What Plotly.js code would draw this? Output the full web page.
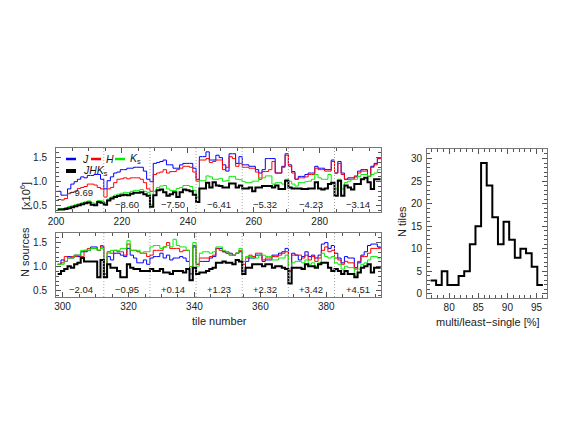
<!DOCTYPE html>
<html>
<head>
<meta charset="utf-8">
<script src="https://cdn.plot.ly/plotly-3.0.1.min.js"></script>
<style>
  html, body { margin: 0; padding: 0; background: #fff; }
  #chart { width: 562px; height: 425px; }
</style>
</head>
<body>
<div id="chart"></div>
<script>
// tiles 201-298 (upper panel) and 299-396 (lower panel), 14 tiles per row of latitude
const firstTileTop = 201;
const firstTileBottom = 299;
const tilesPerRow = 14;

const latTop = [-9.69, -8.60, -7.50, -6.41, -5.32, -4.23, -3.14];
const latBottom = [-2.04, -0.95, 0.14, 1.23, 2.32, 3.42, 4.51];

// number of sources per tile [x10^6]
const jTop = [
  0.80, 0.72, 0.72, 0.85, 0.95, 1.00, 1.05, 1.10, 1.08, 1.13, 1.13, 1.15, 1.15, 1.05,
  0.85, 1.02, 1.10, 1.18, 1.20, 1.25, 1.25, 1.28, 1.28, 1.30, 1.30, 1.30, 1.22, 1.05,
  1.00, 1.38, 1.40, 1.42, 1.45, 1.35, 1.35, 1.28, 1.28, 1.35, 1.38, 1.38, 1.38, 1.28,
  1.05, 1.52, 1.52, 1.62, 1.45, 1.45, 1.55, 1.50, 1.35, 1.22, 1.58, 1.58, 1.38, 1.52,
  1.35, 1.35, 1.32, 1.32, 1.25, 1.18, 1.25, 1.48, 1.48, 1.48, 1.18, 1.18, 1.32, 1.58,
  1.35, 1.21, 1.05, 1.11, 1.11, 1.15, 1.18, 1.18, 1.32, 1.28, 1.28, 1.25, 1.25, 1.45,
  1.18, 1.42, 1.18, 1.05, 1.08, 1.08, 1.10, 1.22, 1.25, 1.25, 1.11, 1.32, 1.38, 1.48
];
const hTop = [
  0.63, 0.62, 0.65, 0.75, 0.78, 0.80, 0.86, 0.88, 0.90, 0.95, 0.95, 0.93, 0.88, 0.85,
  0.68, 0.85, 0.88, 0.98, 1.05, 1.06, 1.08, 1.06, 1.08, 1.08, 1.08, 1.05, 0.98, 0.85,
  0.80, 1.15, 1.18, 1.20, 1.25, 1.18, 1.21, 1.21, 1.25, 1.28, 1.32, 1.32, 1.30, 1.20,
  1.01, 1.45, 1.45, 1.48, 1.40, 1.42, 1.45, 1.45, 1.25, 1.30, 1.52, 1.48, 1.32, 1.38,
  1.30, 1.30, 1.28, 1.28, 1.20, 1.05, 1.21, 1.21, 1.25, 1.42, 1.18, 1.18, 1.30, 1.55,
  1.32, 1.18, 1.05, 1.08, 1.08, 1.10, 1.15, 1.15, 1.28, 1.25, 1.25, 1.22, 1.22, 1.42,
  1.18, 1.38, 1.15, 1.05, 1.05, 1.05, 1.12, 1.18, 1.22, 1.22, 1.11, 1.30, 1.35, 1.48
];
const kTop = [
  0.44, 0.44, 0.46, 0.48, 0.50, 0.52, 0.54, 0.56, 0.58, 0.60, 0.56, 0.55, 0.61, 0.60,
  0.56, 0.64, 0.68, 0.72, 0.74, 0.76, 0.78, 0.77, 0.80, 0.82, 0.82, 0.84, 0.80, 0.78,
  0.52, 0.80, 0.88, 0.91, 0.92, 0.85, 0.82, 0.82, 0.86, 0.88, 0.92, 0.92, 0.90, 0.82,
  0.68, 1.02, 1.02, 1.12, 1.10, 1.05, 1.05, 1.07, 1.01, 1.02, 1.11, 1.11, 1.05, 1.04,
  1.00, 0.98, 0.98, 1.01, 1.01, 1.08, 1.08, 1.12, 1.12, 0.95, 0.98, 0.98, 0.95, 1.05,
  1.01, 0.95, 0.91, 0.98, 0.98, 1.00, 1.01, 1.05, 1.15, 1.08, 1.05, 1.05, 1.15, 0.98,
  0.85, 1.05, 0.85, 0.98, 1.01, 1.05, 1.05, 1.11, 1.15, 1.15, 1.11, 1.15, 1.18, 1.25
];
const allTop = [
  0.42, 0.42, 0.43, 0.45, 0.47, 0.49, 0.51, 0.53, 0.55, 0.57, 0.52, 0.51, 0.58, 0.56,
  0.52, 0.61, 0.65, 0.68, 0.70, 0.72, 0.73, 0.72, 0.75, 0.77, 0.77, 0.78, 0.74, 0.71,
  0.48, 0.72, 0.82, 0.84, 0.78, 0.71, 0.74, 0.78, 0.68, 0.78, 0.84, 0.82, 0.80, 0.73,
  0.58, 0.86, 0.86, 0.98, 0.88, 0.99, 0.92, 0.91, 0.88, 0.88, 0.96, 0.96, 0.88, 0.92,
  0.86, 0.86, 0.88, 0.80, 0.88, 0.88, 0.91, 0.91, 0.91, 0.88, 0.92, 0.85, 0.85, 1.02,
  0.88, 0.86, 0.86, 0.86, 0.85, 0.85, 0.86, 0.86, 0.99, 0.86, 0.84, 0.86, 0.95, 0.98,
  0.71, 1.02, 0.71, 0.92, 0.88, 0.84, 0.95, 0.95, 1.05, 1.08, 0.99, 0.85, 1.05, 1.05
];

const jBottom = [
  1.05, 1.14, 1.11, 1.21, 1.18, 1.24, 1.21, 1.31, 1.31, 1.34, 1.41, 1.41, 1.34, 1.41,
  0.85, 1.21, 1.14, 1.28, 1.28, 1.24, 1.21, 1.38, 1.24, 1.18, 1.08, 1.08, 1.14, 1.05,
  1.18, 1.21, 1.21, 1.28, 1.18, 1.24, 1.14, 1.18, 1.18, 1.21, 1.18, 1.11, 0.85, 1.41,
  1.05, 1.11, 1.11, 1.11, 1.18, 1.21, 1.38, 1.38, 1.31, 1.28, 1.28, 1.24, 1.28, 1.31,
  0.91, 1.11, 1.18, 1.18, 1.24, 1.24, 1.11, 1.14, 1.14, 1.24, 1.24, 1.28, 1.31, 1.38,
  0.91, 1.28, 1.24, 1.14, 1.21, 1.31, 1.21, 1.24, 1.18, 1.24, 1.47, 1.50, 1.38, 1.44,
  1.28, 1.18, 1.08, 1.21, 1.18, 1.18, 0.98, 1.08, 1.24, 1.31, 1.44, 1.47, 1.47, 1.41
];
const hBottom = [
  1.05, 1.08, 1.21, 1.18, 1.21, 1.21, 1.24, 1.21, 1.34, 1.38, 1.38, 1.38, 1.34, 1.44,
  0.85, 1.31, 1.28, 1.34, 1.31, 1.31, 1.24, 1.47, 1.34, 1.34, 1.31, 1.28, 1.28, 1.21,
  1.24, 1.34, 1.34, 1.34, 1.41, 1.50, 1.38, 1.38, 1.38, 1.31, 1.34, 1.34, 1.00, 1.44,
  1.05, 1.18, 1.18, 1.18, 1.21, 1.24, 1.38, 1.34, 1.31, 1.31, 1.24, 1.24, 1.28, 1.34,
  1.05, 1.18, 1.24, 1.21, 1.28, 1.28, 1.14, 1.18, 1.18, 1.21, 1.21, 1.24, 1.28, 1.31,
  0.91, 1.24, 1.24, 1.24, 1.18, 1.24, 1.14, 1.21, 1.11, 1.18, 1.34, 1.41, 1.31, 1.34,
  1.18, 1.14, 1.05, 1.11, 1.08, 1.08, 0.95, 1.11, 1.21, 1.21, 1.28, 1.38, 1.38, 1.38
];
const kBottom = [
  1.05, 1.05, 1.11, 1.18, 1.18, 1.24, 1.24, 1.34, 1.34, 1.34, 1.38, 1.38, 1.34, 1.38,
  0.85, 1.28, 1.34, 1.34, 1.34, 1.38, 1.38, 1.54, 1.34, 1.34, 1.34, 1.28, 1.31, 1.31,
  1.41, 1.44, 1.44, 1.38, 1.41, 1.44, 1.41, 1.57, 1.44, 1.41, 1.41, 1.34, 1.00, 1.50,
  1.01, 1.28, 1.31, 1.31, 1.28, 1.31, 1.41, 1.41, 1.34, 1.31, 1.24, 1.24, 1.28, 1.38,
  1.11, 1.21, 1.21, 1.18, 1.18, 1.24, 1.24, 1.21, 1.21, 1.14, 1.14, 1.18, 1.18, 1.24,
  0.78, 1.08, 1.11, 1.11, 1.08, 1.14, 1.05, 1.08, 1.01, 1.08, 1.28, 1.21, 1.18, 1.21,
  1.08, 1.05, 0.95, 1.01, 0.98, 0.98, 0.82, 0.95, 1.05, 1.08, 1.14, 1.21, 1.21, 1.18
];
const allBottom = [
  0.85, 0.91, 0.95, 1.01, 0.98, 1.05, 1.08, 1.18, 1.11, 1.11, 1.11, 1.11, 0.78, 1.14,
  0.78, 1.05, 0.98, 0.98, 0.91, 0.78, 0.78, 1.05, 0.98, 0.95, 0.95, 0.91, 0.91, 0.91,
  0.95, 0.91, 0.91, 0.95, 0.88, 0.88, 0.85, 0.91, 0.91, 0.91, 0.88, 0.95, 0.72, 0.98,
  0.85, 0.88, 0.88, 0.91, 0.95, 0.98, 1.08, 1.08, 1.11, 1.08, 1.08, 1.05, 1.14, 1.11,
  0.85, 0.98, 0.98, 1.05, 1.05, 1.05, 1.01, 1.05, 1.05, 0.98, 1.01, 1.01, 0.98, 0.95,
  0.65, 0.98, 0.98, 0.98, 0.95, 1.05, 1.01, 1.01, 0.98, 1.05, 1.08, 1.08, 0.98, 0.91,
  0.95, 0.91, 0.85, 0.91, 0.85, 0.85, 0.78, 0.88, 0.98, 1.01, 1.05, 0.88, 0.98, 0.98
];

// histogram of multi/least-single ratio [%]
const histStart = 76.8;
const histWidth = 0.965;
const histCounts = [3, 2, 5, 2, 2, 4, 5, 11, 15, 29, 24, 17, 11, 16, 12, 8, 10, 9, 6, 2];

const W = 562, H = 425;
const px = x => x / W;
const py = y => (H - y) / H;

const colJ = '#0000ff', colH = '#ff0000', colK = '#00ee00', colAll = '#000000';
const tickFont = {family: 'Liberation Sans, Arial, sans-serif', size: 10, color: '#222'};
const titleFont = {family: 'Liberation Sans, Arial, sans-serif', size: 11, color: '#222'};

function tileList(first, n) {
  const out = [];
  for (let i = 0; i < n; i++) out.push(first + i);
  return out;
}

// histogram-like step line: each tile covers tile-0.5 .. tile+0.5
function stepTrace(tiles, vals, color, width, xa, ya) {
  const x = tiles.map(t => t - 0.5);
  x.push(tiles[tiles.length - 1] + 0.5);
  const y = vals.slice();
  y.push(vals[vals.length - 1]);
  return {
    x: x, y: y, type: 'scatter', mode: 'lines',
    line: {shape: 'hv', color: color, width: width},
    xaxis: xa, yaxis: ya, hoverinfo: 'skip', showlegend: false
  };
}

const tilesTop = tileList(firstTileTop, jTop.length);
const tilesBottom = tileList(firstTileBottom, jBottom.length);

const traces = [
  stepTrace(tilesTop, jTop, colJ, 1, 'x', 'y'),
  stepTrace(tilesTop, hTop, colH, 1, 'x', 'y'),
  stepTrace(tilesTop, kTop, colK, 1, 'x', 'y'),
  stepTrace(tilesTop, allTop, colAll, 2, 'x', 'y'),
  stepTrace(tilesBottom, jBottom, colJ, 1, 'x2', 'y2'),
  stepTrace(tilesBottom, hBottom, colH, 1, 'x2', 'y2'),
  stepTrace(tilesBottom, kBottom, colK, 1, 'x2', 'y2'),
  stepTrace(tilesBottom, allBottom, colAll, 2, 'x2', 'y2')
];

// histogram as a step line
const hx = histCounts.map((c, i) => histStart + i * histWidth);
hx.push(histStart + histCounts.length * histWidth);
const hy = histCounts.slice();
hy.push(histCounts[histCounts.length - 1]);
traces.push({
  x: hx, y: hy, type: 'scatter', mode: 'lines',
  line: {shape: 'hv', color: '#000', width: 2},
  xaxis: 'x3', yaxis: 'y3', hoverinfo: 'skip', showlegend: false
});

function baseAxis(extra) {
  return Object.assign({
    showgrid: false, zeroline: false, showline: true, linecolor: '#777', linewidth: 1,
    mirror: 'ticks', ticks: 'inside', ticklen: 5, tickcolor: '#555', tickwidth: 1,
    tickfont: tickFont
  }, extra);
}

const leftDomain = [px(56), px(381)];
const layout = {
  width: W, height: H,
  margin: {l: 0, r: 0, t: 0, b: 0},
  paper_bgcolor: '#fff', plot_bgcolor: '#fff',
  showlegend: false,
  xaxis: baseAxis({domain: leftDomain, anchor: 'y', range: [200, 298.6], tick0: 200, dtick: 20,
    minor: {ticks: 'inside', ticklen: 3, dtick: 5, tickcolor: '#555'}}),
  yaxis: baseAxis({domain: [py(212), py(148)], anchor: 'x', range: [0.37, 1.70], tick0: 0.5, dtick: 0.5,
    tickformat: '.1f', ticklabelstandoff: 6,
    minor: {ticks: 'inside', ticklen: 3, dtick: 0.1, tickcolor: '#555'}}),
  xaxis2: baseAxis({domain: leftDomain, anchor: 'y2', range: [298, 396.6], tick0: 300, dtick: 20,
    minor: {ticks: 'inside', ticklen: 3, dtick: 5, tickcolor: '#555'}}),
  yaxis2: baseAxis({domain: [py(297), py(233)], anchor: 'x2', range: [0.37, 1.70], tick0: 0.5, dtick: 0.5,
    tickformat: '.1f', ticklabelstandoff: 6,
    minor: {ticks: 'inside', ticklen: 3, dtick: 0.1, tickcolor: '#555'}}),
  xaxis3: baseAxis({domain: [px(427), px(547)], anchor: 'y3', range: [76.2, 96.8], tick0: 80, dtick: 5,
    minor: {ticks: 'inside', ticklen: 3, dtick: 1, tickcolor: '#555'}}),
  yaxis3: baseAxis({domain: [py(298), py(149)], anchor: 'x3', range: [-0.9, 32.1], tick0: 0, dtick: 5,
    ticklabelstandoff: 2,
    minor: {ticks: 'inside', ticklen: 3, dtick: 1, tickcolor: '#555'}}),
  shapes: [],
  annotations: []
};

// dotted separators between rows of tiles, and the latitude of each row
function addRows(firstTile, lats, xref, yref, labelY, firstLabelY) {
  lats.forEach((b, i) => {
    const start = firstTile + i * tilesPerRow;
    if (i > 0) {
      layout.shapes.push({type: 'line', xref: xref, yref: yref + ' domain',
        x0: start - 0.5, x1: start - 0.5, y0: 0, y1: 1,
        line: {color: '#aaa', width: 1, dash: '1px,2px'}});
    }
    const txt = (b < 0 ? '\u2212' : '+') + Math.abs(b).toFixed(2);
    layout.annotations.push({xref: xref, yref: yref, x: start + (tilesPerRow - 1) / 2,
      y: (i === 0 && firstLabelY) ? firstLabelY : labelY, text: txt, showarrow: false,
      xanchor: 'center', yanchor: 'middle',
      font: {family: 'Liberation Sans, Arial, sans-serif', size: 9.5, color: '#222'}});
  });
}
addRows(firstTileTop, latTop, 'x', 'y', 0.52, 0.77);
addRows(firstTileBottom, latBottom, 'x2', 'y2', 0.53, null);

// legend drawn by hand
function legendKey(x0, x1, y, color, width) {
  layout.shapes.push({type: 'line', xref: 'paper', yref: 'paper',
    x0: px(x0), x1: px(x1), y0: py(y), y1: py(y), line: {color: color, width: width}});
}
function label(x, y, text, font, opts) {
  layout.annotations.push(Object.assign({xref: 'paper', yref: 'paper', x: px(x), y: py(y),
    text: text, showarrow: false, font: font, xanchor: 'center', yanchor: 'middle'}, opts || {}));
}
const legFont = {family: 'Liberation Sans, Arial, sans-serif', size: 10.5, color: '#111'};
legendKey(66, 76, 159, colJ, 2.5);
label(80, 159, '<i>J</i>', legFont, {xanchor: 'left'});
legendKey(91, 101, 159, colH, 2.5);
label(104, 159, '<i>H</i>', legFont, {xanchor: 'left'});
legendKey(115, 125, 159, colK, 2.5);
label(128, 159, '<i>K</i><sub>s</sub>', legFont, {xanchor: 'left'});
legendKey(66, 76, 171, colAll, 4);
label(81, 171, '<i>JHK</i><sub>s</sub>', legFont, {xanchor: 'left'});

// axis titles
label(25, 196, '[x10<sup>6</sup>]', titleFont, {textangle: -90});
label(25, 252, 'N sources', titleFont, {textangle: -90});
label(219, 321, 'tile number', titleFont);
label(402, 222, 'N tiles', titleFont, {textangle: -90});
label(488, 322, 'multi/least\u2212single [%]', titleFont);

Plotly.newPlot('chart', traces, layout, {displayModeBar: false, staticPlot: true});
</script>
</body>
</html>
